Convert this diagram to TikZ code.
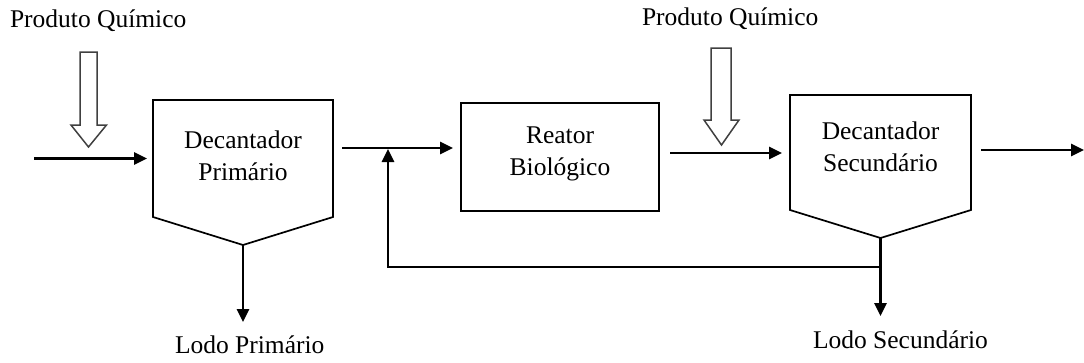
\documentclass[tikz,border=0pt]{standalone}
\usepackage{fontspec}
\setmainfont{Liberation Serif}
\usetikzlibrary{arrows.meta,calc}
\begin{document}
\begin{tikzpicture}[x=1pt,y=-1pt,
  every node/.style={font=\fontsize{25.5}{32}\selectfont, inner sep=0pt, outer sep=0pt},
  outline/.style={draw=black, line width=1.7pt, line join=miter},
  flow/.style={draw=black, line width=2.7pt, -{Triangle[length=13pt,width=12pt]}},
  dose/.style={draw=black!75, line width=1.5pt, fill=white},
  txt/.style={align=center}]
\useasboundingbox (0,0) rectangle (1084,362);

% ---- units ----
\node[minimum width=180pt, minimum height=117pt] (dp) at (243,158.5) {};
\coordinate (dpt) at (243,245);
\draw[outline] (dp.north west) -- (dp.north east) -- (dp.south east) -- (dpt) -- (dp.south west) -- cycle;
\node[txt] (dplabel) at (243,156) {Decantador\\Primário};

\node[draw, line width=1.7pt, minimum width=198pt, minimum height=108pt] (rb) at (560,157) {};
\node[txt] (rblabel) at (560,154) {Reator\\Biológico};

\node[minimum width=181pt, minimum height=115pt] (ds) at (880.5,152.5) {};
\coordinate (dst) at (880.5,238);
\draw[outline] (ds.north west) -- (ds.north east) -- (ds.south east) -- (dst) -- (ds.south west) -- cycle;
\node[txt] (dslabel) at (880.5,146.5) {Decantador\\Secundário};

% ---- chemical dosing ----
\node[anchor=base west] (pq1) at (10,27) {Produto Químico};
\draw[dose] (80,52) -- (97,52) -- (97,125) -- (106.5,125) -- (88.5,147) -- (71,125) -- (80,125) -- cycle;
\node[anchor=base west] (pq2) at (642,25) {Produto Químico};
\draw[dose] (711,48) -- (731,48) -- (731,120) -- (739,120) -- (721.5,145) -- (704,120) -- (711,120) -- cycle;

% ---- main flow ----
\coordinate (in) at (34,158.5);
\coordinate (out) at (1084,150);
\coordinate (j) at (388,149);
\coordinate (a1) at ([xshift=9pt,yshift=10.5pt]dp.east);
\coordinate (a2) at ([xshift=11pt,yshift=4pt]rb.east);
\draw[flow, shorten >=6pt] (in) -- (dp.west);
\draw[flow, shorten >=8pt] (a1) -- (a1 -| rb.west);
\draw[flow, shorten >=8pt] (a2) -- (a2 -| ds.west);
\draw[flow] ([xshift=10pt,yshift=2.5pt]ds.east) -- (out);

% ---- sludge ----
\coordinate (lp) at (243,322);
\coordinate (lsx) at (880.5,316);
\coordinate (r1) at (880.5,267);
\draw[flow] (dpt) -- (lp);
\draw[flow] (dst) -- (lsx);
\draw[flow, line join=miter] (r1) -| (j);
\node[anchor=base west] (lodo1) at (175,353) {Lodo Primário};
\node[anchor=base west] (lodo2) at (813,348) {Lodo Secundário};
\end{tikzpicture}
\end{document}
